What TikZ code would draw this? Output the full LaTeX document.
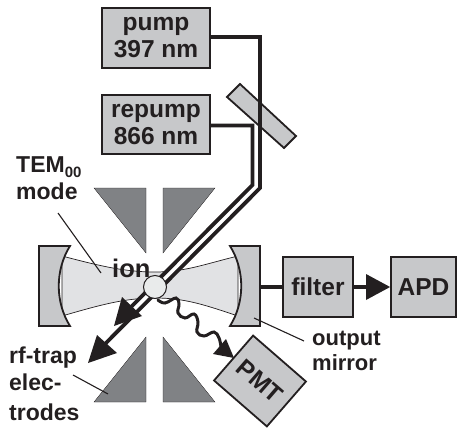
\documentclass[tikz,border=0pt]{standalone}
\usepackage{fontspec}
\setmainfont{Liberation Sans}[BoldFont={Liberation Sans Bold}]
\definecolor{boxgray}{HTML}{C7C8CA}
\definecolor{elecgray}{HTML}{808285}
\definecolor{beamgray}{HTML}{E1E2E4}
\definecolor{iongray}{HTML}{E9EBEB}
\definecolor{inkc}{HTML}{231F20}
\tikzset{
  devbox/.style={draw=inkc,line width=1.8pt,fill=boxgray,inner sep=0pt,align=center,text=inkc,
    font=\bfseries\fontsize{24.5}{27}\selectfont},
  lab/.style={inner sep=0pt,anchor=base west,text=inkc,font=\bfseries\fontsize{23}{27}\selectfont},
  electrode/.style={fill=elecgray,draw=inkc,line width=0.3pt},
  mirrorbody/.style={fill=boxgray,draw=inkc,line width=1.8pt,line join=miter},
  leader/.style={draw=inkc,line width=1.1pt},
  laser/.style={draw=inkc,line width=3.8pt,line join=miter},
  tiphead/.style={fill=inkc,draw=none},
}
\begin{document}
\begin{tikzpicture}[x=1pt,y=-1pt]
\useasboundingbox (0,0) rectangle (457,428);
% electrodes
\draw[electrode] (94,188) -- (146,188) -- (146,253) -- cycle;
\draw[electrode] (163,188) -- (215,188) -- (163,253) -- cycle;
\draw[electrode] (146,337) -- (146,402) -- (94,402) -- cycle;
\draw[electrode] (163,337) -- (215,402) -- (163,402) -- cycle;
% cavity mode
\draw[fill=beamgray,draw=inkc,line width=0.7pt]
  (62,256) .. controls (100,266) and (125,272) .. (155,272)
  .. controls (185,272) and (205,264) .. (238,256)
  -- (238,316) .. controls (205,305) and (185,298) .. (155,298)
  .. controls (125,298) and (100,305) .. (62,316) -- cycle;
% mirrors
\draw[mirrorbody] (39,246) -- (70,246) .. controls (55,270) and (55,302) .. (70,326) -- (39,326) -- cycle;
\draw[mirrorbody] (260,246) -- (230,246) .. controls (245,270) and (245,302) .. (230,326) -- (260,326) -- cycle;
% leaders
\coordinate (modeA) at (58,213); \coordinate (modeB) at (101,273);
\coordinate (rfA) at (73,375); \coordinate (rfB) at (108,394);
\coordinate (outA) at (254,318); \coordinate (outB) at (304,341);
\draw[leader] (modeA) -- (modeB);
\draw[leader] (rfA) -- (rfB);
\draw[leader] (outA) -- (outB);
% beam splitter
\draw[fill=boxgray,draw=inkc,line width=1.8pt] (240,84) -- (296,136) -- (284,148) -- (227,97) -- cycle;
% boxes
\node[devbox,minimum width=108pt,minimum height=60pt] (pump) at (156,38) {pump\\397 nm};
\node[devbox,minimum width=108pt,minimum height=59pt] (repump) at (156,124.5) {repump\\866 nm};
\node[devbox,minimum width=70pt,minimum height=60pt] (filter) at (318,287) {filter};
\node[devbox,minimum width=65pt,minimum height=60pt] (apd) at (423.5,287) {APD};
\node[devbox,minimum width=70pt,minimum height=59.5pt,rotate=-41] (pmt) at (260,381) {PMT};
% laser paths
\coordinate (pumpBend) at (260,37);
\coordinate (pumpKink) at (260,188);
\coordinate (pumpEnd) at (100,349);
\coordinate (repumpBend) at (252.5,125.5);
\coordinate (repumpKink) at (252.5,185);
\coordinate (repumpEnd) at (127,311);
\draw[white,line width=6pt] (256,186) -- (120,322);
\draw[laser] (pump.east |- pumpBend) -- (pumpBend) -- (pumpKink) -- (pumpEnd);
\draw[laser] (repump.east |- repumpBend) -- (repumpBend) -- (repumpKink) -- (repumpEnd);
\draw[tiphead] (88,363) -- (97,335) -- (117,353) -- cycle;
\draw[tiphead] (114,326) -- (122,297) -- (142,316) -- cycle;
% output beam
\draw[draw=inkc,line width=4pt] (260,287) -- (filter.west);
\draw[draw=inkc,line width=4pt] (filter.east) -- (370,287);
\draw[tiphead] (apd.west) -- (366,300) -- (366,274) -- cycle;
% ion
\node[circle,draw=inkc,line width=1pt,fill=iongray,minimum size=23pt,inner sep=0pt] (ionball) at (155,287) {};
% fluorescence
\coordinate (waveTip) at (234,358);
\draw[draw=inkc,line width=3pt,line cap=round] plot[smooth,tension=0.7] coordinates
  {(158,300) (165,303) (176,298) (179,304) (178,313) (185,318) (194,314) (198,322) (197,332) (204,336) (214,332) (219,338) (221,347)};
\draw[tiphead] (waveTip) -- (213,354) -- (226,339) -- cycle;
% labels
\node[lab] at (16,172) {TEM\raisebox{-5pt}{\fontsize{15}{15}\selectfont 00}};
\node[lab] at (16,199) {mode};
\node[lab,font=\bfseries\fontsize{25.5}{27}\selectfont] at (112,277.5) {ion};
\node[lab] at (9,363) {rf-trap};
\node[lab] at (9,390) {elec-};
\node[lab] at (9,420) {trodes};
\node[lab,font=\bfseries\fontsize{22}{25}\selectfont] at (312,345) {output};
\node[lab,font=\bfseries\fontsize{22}{25}\selectfont] at (312,370) {mirror};
\end{tikzpicture}
\end{document}
